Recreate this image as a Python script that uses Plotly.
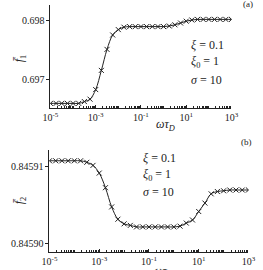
import plotly.graph_objects as go

# log10(omega*tau_D) sample positions
log_x = [-5.0 + 0.25 * i for i in range(33)]
x_vals = [10 ** v for v in log_x]

# panel (a): mean f1
f1 = [0.69661, 0.69661, 0.69661, 0.69661, 0.69661, 0.69661,
      0.69664, 0.69668, 0.69684, 0.69716, 0.69751, 0.69775,
      0.69784, 0.69788, 0.69789, 0.69789, 0.69789, 0.69789,
      0.69789, 0.69789, 0.69789, 0.69790, 0.69792, 0.69795,
      0.69798, 0.69800, 0.69801, 0.69801, 0.69801, 0.69801,
      0.69801, 0.69801, 0.69801]

# panel (b): mean f2
f2 = [0.8459108, 0.8459108, 0.8459108, 0.8459108, 0.8459108, 0.8459108,
      0.8459106, 0.8459102, 0.8459092, 0.8459073, 0.8459048, 0.8459032,
      0.8459026, 0.8459024, 0.8459022, 0.8459022, 0.8459022, 0.8459022,
      0.8459022, 0.8459022, 0.8459022, 0.8459023, 0.8459027, 0.8459031,
      0.8459042, 0.8459053, 0.8459065, 0.8459068, 0.8459069, 0.8459070,
      0.8459070, 0.8459070, 0.8459070]

x_tickvals = [1e-5, 1e-3, 1e-1, 1e1, 1e3]
x_ticktext = ["10<sup>-5</sup>", "10<sup>-3</sup>", "10<sup>-1</sup>",
              "10<sup>1</sup>", "10<sup>3</sup>"]
f1_ticks = [0.697, 0.698]
f1_ticktext = ["0.697", "0.698"]
f2_ticks = [0.84590, 0.84591]
f2_ticktext = ["0.84590", "0.84591"]

W, H = 263, 270
FONT = "Liberation Serif"
INK = "#222"

fig = go.Figure()
common = dict(mode="lines+markers", line=dict(color=INK, width=1, shape="spline"),
              marker=dict(symbol="x-thin", size=5, line=dict(color=INK, width=1)),
              showlegend=False)
fig.add_trace(go.Scatter(x=x_vals, y=f1, xaxis="x", yaxis="y", **common))
fig.add_trace(go.Scatter(x=x_vals, y=f2, xaxis="x2", yaxis="y2", **common))


def xax(domain, anchor):
    return dict(type="log", range=[-5, 3], domain=domain, anchor=anchor,
                showline=True, linecolor=INK, linewidth=1, showgrid=False,
                zeroline=False, ticks="inside", ticklen=3, tickcolor=INK,
                tickvals=x_tickvals, ticktext=x_ticktext,
                tickfont=dict(family=FONT, size=10, color=INK),
                minor=dict(ticks="inside", ticklen=2, tickcolor=INK, dtick="D1"))


def yax(domain, anchor, rng, tv, tt):
    return dict(range=rng, domain=domain, anchor=anchor, showline=True,
                linecolor=INK, linewidth=1, showgrid=False, zeroline=False,
                ticks="outside", ticklen=3, tickcolor=INK, tickvals=tv,
                ticktext=tt, tickfont=dict(family=FONT, size=10, color=INK))


fig.update_layout(
    width=W, height=H, margin=dict(l=0, r=0, t=0, b=0),
    paper_bgcolor="white", plot_bgcolor="white",
    xaxis=xax([45 / W, 237 / W], "y"),
    yaxis=yax([1 - 108 / H, 1 - 5 / H], "x", [0.696533, 0.69825], f1_ticks, f1_ticktext),
    xaxis2=xax([44 / W, 255 / W], "y2"),
    yaxis2=yax([1 - 252.3 / H, 1 - 150 / H], "x2", [0.8458989, 0.8459122], f2_ticks, f2_ticktext),
)


def px_ann(text, x, y, size=12, xanchor="left", angle=0):
    fig.add_annotation(text=text, x=x / W, y=1 - y / H, xref="paper", yref="paper",
                       showarrow=False, xanchor=xanchor, yanchor="middle",
                       textangle=angle, font=dict(family=FONT, size=size, color=INK))


# panel (a) labels
px_ann("(a)", 255, 4, size=9, xanchor="center")
px_ann("<i>ξ</i> = 0.1", 192, 45)
px_ann("<i>ξ</i><sub>0</sub> = 1", 192, 62)
px_ann("<i>σ</i> = 10", 192, 80)
px_ann("<i>ωτ</i><sub><i>D</i></sub>", 167, 125, xanchor="center")
px_ann("<i>f̄</i><sub>1</sub>", 13, 58, size=12, xanchor="center", angle=-90)

# panel (b) labels
px_ann("(b)", 253, 142, size=9, xanchor="center")
px_ann("<i>ξ</i> = 0.1", 141, 158)
px_ann("<i>ξ</i><sub>0</sub> = 1", 141, 175)
px_ann("<i>σ</i> = 10", 141, 192)
px_ann("<i>ωτ</i><sub><i>D</i></sub>", 165, 272, xanchor="center")
px_ann("<i>f̄</i><sub>2</sub>", 13, 200, size=12, xanchor="center", angle=-90)

fig.write_html("out.html")
